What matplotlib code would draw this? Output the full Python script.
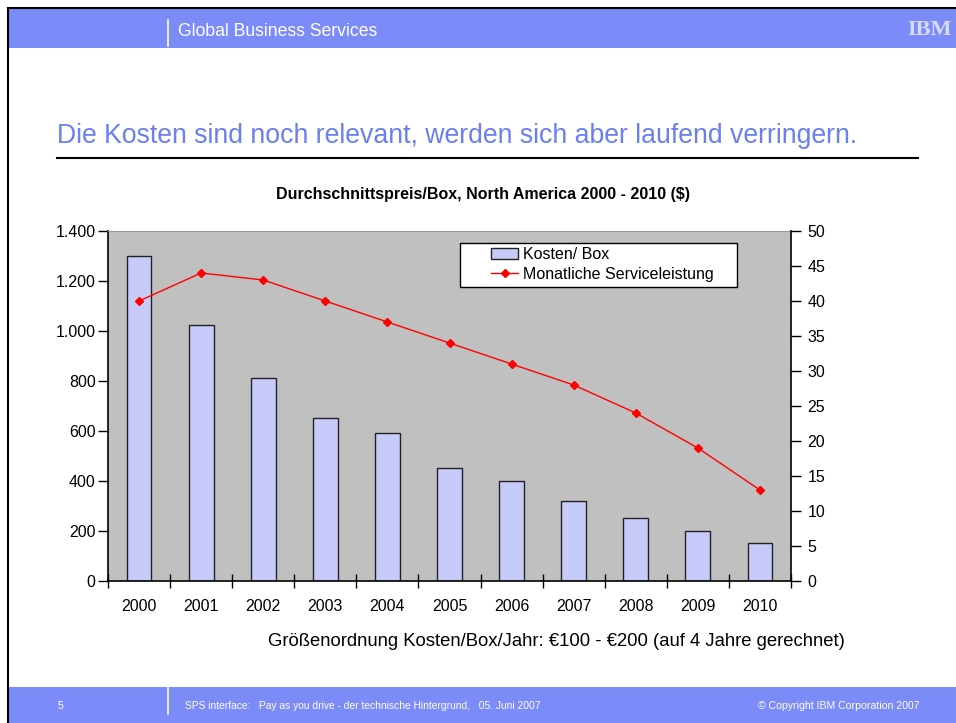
import numpy as np
import matplotlib
matplotlib.use("Agg")
from matplotlib import pyplot as plt
from matplotlib.ticker import FuncFormatter

years = ["2000", "2001", "2002", "2003", "2004", "2005", "2006", "2007", "2008", "2009", "2010"]
kosten_box = [1300, 1025, 813, 653, 593, 452, 402, 322, 252, 200, 152]
service = [40, 44, 43, 40, 37, 34, 31, 28, 24, 19, 13]

title = "Die Kosten sind noch relevant, werden sich aber laufend verringern."
chart_title = "Durchschnittspreis/Box, North America 2000 - 2010 ($)"
note = "Größenordnung Kosten/Box/Jahr: €100 - €200 (auf 4 Jahre gerechnet)"

plt.rcParams["font.family"] = ["Liberation Sans", "DejaVu Sans"]

band = "#7B8BF8"
W, H = 956, 723

fig = plt.figure(figsize=(9.56, 7.23), dpi=100)

# slide frame, header and footer
bg = fig.add_axes([0, 0, 1, 1])
bg.set_xlim(0, W)
bg.set_ylim(H, 0)
bg.axis("off")
bg.add_patch(plt.Rectangle((8, 8), W, 40, color=band, lw=0))
bg.add_patch(plt.Rectangle((8, 687), W, 40, color=band, lw=0))
bg.plot([8, W], [8, 8], color="black", lw=1.5)
bg.plot([8, 8], [8, H], color="black", lw=1.5)
bg.plot([168, 168], [20, 46], color="white", lw=1.2)
bg.plot([168, 168], [688, 714], color="white", lw=1.2)
bg.text(178, 32, "Global Business Services", color="white", fontsize=12.7, va="center")
bg.text(952, 30, "IBM", color="#D8DCF2", fontsize=16, fontweight="bold",
        family=["Liberation Serif", "DejaVu Serif"], va="center", ha="right")
for yy in range(19, 42, 3):
    bg.plot([890, W], [yy, yy], color=band, lw=0.8)
bg.text(57, 136, title, color="#6A7FF0", fontsize=19.2, va="center")
bg.plot([57, 918], [158, 158], color="black", lw=1.5)
bg.text(483, 194, chart_title, fontsize=11.5, fontweight="bold", ha="center", va="center")
bg.text(268, 641, note, fontsize=13.3, va="center")
bg.text(58, 706, "5", color="white", fontsize=7.5, va="center")
bg.text(185, 706, "SPS interface:   Pay as you drive - der technische Hintergrund,   05. Juni 2007",
        color="white", fontsize=7.4, va="center")
bg.text(920, 706, "© Copyright IBM Corporation 2007", color="white", fontsize=7.6,
        va="center", ha="right")

# chart
ax = fig.add_axes([108 / W, 1 - 581 / H, 683 / W, 350 / H])
ax.set_facecolor("#C0C0C0")
x = np.arange(len(years))
ax.bar(x, kosten_box, width=0.4, color="#C6CBFA", edgecolor="#222222", lw=1,
       label="Kosten/ Box", zorder=2)
ax.set_xlim(-0.5, len(years) - 0.5)
ax.set_ylim(0, 1400)
ax.set_yticks(range(0, 1401, 200))
ax.yaxis.set_major_formatter(FuncFormatter(lambda v, p: f"{int(v):,}".replace(",", ".")))
ax.set_xticks(x)
ax.set_xticklabels(years)
ax.set_xticks(np.arange(-0.5, len(years)), minor=True)
ax.tick_params(axis="x", which="major", length=0, labelsize=11.5, pad=13)
ax.tick_params(axis="x", which="minor", direction="inout", length=10, width=1)
ax.tick_params(axis="y", direction="out", length=7, width=1, labelsize=11.5, pad=2)
ax.spines["top"].set_color("#999999")
ax.spines["right"].set_visible(False)
for s in ["left", "bottom"]:
    ax.spines[s].set_linewidth(1.2)

ax2 = ax.twinx()
ax2.plot(x, service, color="#FF0000", lw=1, marker="D", markersize=4.5,
         label="Monatliche Serviceleistung", zorder=3)
ax2.set_ylim(0, 50)
ax2.set_yticks(range(0, 51, 5))
ax2.tick_params(axis="y", direction="out", length=7, width=1, labelsize=11.5, pad=5)
ax2.spines["top"].set_visible(False)
ax2.spines["left"].set_visible(False)
ax2.spines["bottom"].set_visible(False)
ax2.spines["right"].set_linewidth(1.2)

# legend box in Excel style: white frame, wide margins
aw, ah = 683, 350
ax2.add_patch(plt.Rectangle(((460 - 108) / aw, (581 - 287) / ah), 277 / aw, 44 / ah,
                            transform=ax2.transAxes, facecolor="white", edgecolor="black",
                            lw=1, zorder=5))
h1, l1 = ax.get_legend_handles_labels()
h2, l2 = ax2.get_legend_handles_labels()
leg = ax2.legend(h1 + h2, l1 + l2, loc="upper left",
                 bbox_to_anchor=((491 - 108) / aw, 1 - 16 / ah),
                 fontsize=11.5, frameon=False, borderpad=0, labelspacing=0.3,
                 handlelength=1.7, handleheight=0.7, handletextpad=0.3, borderaxespad=0)
leg.set_zorder(6)

fig.savefig("out.png", dpi=100)
